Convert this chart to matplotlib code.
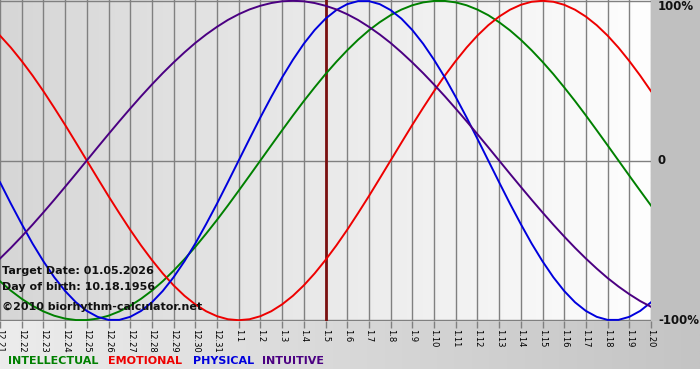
import numpy as np
import matplotlib
matplotlib.use("Agg")
import matplotlib.pyplot as plt
from matplotlib.colors import LinearSegmentedColormap

# ---- data ----
dates = ["12.21", "12.22", "12.23", "12.24", "12.25", "12.26", "12.27", "12.28", "12.29", "12.30",
         "12.31", "1.1", "1.2", "1.3", "1.4", "1.5", "1.6", "1.7", "1.8", "1.9", "1.10",
         "1.11", "1.12", "1.13", "1.14", "1.15", "1.16", "1.17", "1.18", "1.19", "1.20"]
sample_step = 0.5  # values read every half day

physical = [-0.136, -0.270, -0.398, -0.520, -0.631, -0.731, -0.817, -0.888, -0.942, -0.979,
            -0.998, -0.998, -0.979, -0.942, -0.888, -0.817, -0.731, -0.631, -0.520, -0.398,
            -0.270, -0.136, 0.000, 0.136, 0.270, 0.398, 0.520, 0.631, 0.731, 0.817,
            0.888, 0.942, 0.979, 0.998, 0.998, 0.979, 0.942, 0.888, 0.817, 0.731,
            0.631, 0.520, 0.398, 0.270, 0.136, 0.000, -0.136, -0.270, -0.398, -0.520,
            -0.631, -0.731, -0.817, -0.888, -0.942, -0.979, -0.998, -0.998, -0.979, -0.942,
            -0.888]
emotional = [0.782, 0.707, 0.623, 0.532, 0.434, 0.330, 0.223, 0.112, 0.000, -0.112,
             -0.223, -0.330, -0.434, -0.532, -0.623, -0.707, -0.782, -0.847, -0.901, -0.944,
             -0.975, -0.994, -1.000, -0.994, -0.975, -0.944, -0.901, -0.847, -0.782, -0.707,
             -0.623, -0.532, -0.434, -0.330, -0.223, -0.112, 0.000, 0.112, 0.223, 0.330,
             0.434, 0.532, 0.623, 0.707, 0.782, 0.847, 0.901, 0.944, 0.975, 0.994,
             1.000, 0.994, 0.975, 0.944, 0.901, 0.847, 0.782, 0.707, 0.623, 0.532,
             0.434]
intellectual = [-0.756, -0.815, -0.866, -0.910, -0.945, -0.972, -0.990, -0.999, -0.999, -0.990,
                -0.972, -0.945, -0.910, -0.866, -0.815, -0.756, -0.690, -0.618, -0.541, -0.458,
                -0.372, -0.282, -0.189, -0.095, 0.000, 0.095, 0.189, 0.282, 0.372, 0.458,
                0.541, 0.618, 0.690, 0.756, 0.815, 0.866, 0.910, 0.945, 0.972, 0.990,
                0.999, 0.999, 0.990, 0.972, 0.945, 0.910, 0.866, 0.815, 0.756, 0.690,
                0.618, 0.541, 0.458, 0.372, 0.282, 0.189, 0.095, 0.000, -0.095, -0.189,
                -0.282]
intuitive = [-0.614, -0.547, -0.476, -0.402, -0.325, -0.246, -0.165, -0.083, 0.000, 0.083,
             0.165, 0.246, 0.325, 0.402, 0.476, 0.547, 0.614, 0.677, 0.736, 0.789,
             0.837, 0.880, 0.916, 0.946, 0.969, 0.986, 0.997, 1.000, 0.997, 0.986,
             0.969, 0.946, 0.916, 0.880, 0.837, 0.789, 0.736, 0.677, 0.614, 0.547,
             0.476, 0.402, 0.325, 0.246, 0.165, 0.083, 0.000, -0.083, -0.165, -0.246,
             -0.325, -0.402, -0.476, -0.547, -0.614, -0.677, -0.736, -0.789, -0.837, -0.880,
             -0.916]
target_label = "1.5"
y_labels = ["100%", "0", "-100%"]
y_values = [1, 0, -1]
legend_names = ["INTELLECTUAL", "EMOTIONAL", "PHYSICAL", "INTUITIVE"]
info_lines = ["Target Date: 01.05.2026", "Day of birth: 10.18.1956", "\u00a92010 biorhythm-calculator.net"]

# ---- styles ----
C_GREEN = "#008000"
C_RED = "#ee0000"
C_BLUE = "#0000dd"
C_PURPLE = "#4b0082"
W, H = 700, 380

fig = plt.figure(figsize=(7, 3.8), dpi=100)
fig.patch.set_facecolor("white")

# background axes for figure-level gradients
bg = fig.add_axes([0, 0, 1, 1], zorder=-5)
bg.set_xlim(0, W)
bg.set_ylim(H, 0)
bg.axis("off")
grad_bottom = LinearSegmentedColormap.from_list("gb", ["#ececec", "#c4c4c4"])
bg.imshow(np.linspace(0, 1, 256)[None, :], cmap=grad_bottom, aspect="auto",
          extent=[0, W, 369, 321])
bg.fill_between([651, W], 0, 321, color="#c0c0c0", lw=0)

# main plot axes
px_left, px_right, px_top, px_bot = 0, 651, 0, 321
ax = fig.add_axes([px_left / W, 1 - px_bot / H, (px_right - px_left) / W, (px_bot - px_top) / H])
ax.set_facecolor("none")
n = len(dates)
x = np.arange(n)
ax.set_xlim(0, n - 1)
ax.set_ylim(-1.005, 1.005)

grad_plot = LinearSegmentedColormap.from_list("gp", ["#d6d6d6", "#fefefe"])
ax.imshow(np.linspace(0, 1, 256)[None, :], cmap=grad_plot, aspect="auto",
          extent=[0, n - 1, -1.005, 1.005], zorder=0)

for xi in x:
    ax.axvline(xi, color="#808080", lw=1.0, zorder=1)
for yv in y_values:
    ax.axhline(yv, color="#808080", lw=1.0, zorder=1)

ax.axvline(dates.index(target_label), color="#7a1010", lw=2.0, zorder=2)

xs = np.arange(len(physical)) * sample_step
ax.plot(xs, intellectual, color=C_GREEN, lw=1.4, zorder=3)
ax.plot(xs, emotional, color=C_RED, lw=1.4, zorder=3)
ax.plot(xs, physical, color=C_BLUE, lw=1.4, zorder=3)
ax.plot(xs, intuitive, color=C_PURPLE, lw=1.4, zorder=3)

for s in ax.spines.values():
    s.set_visible(False)
ax.set_yticks([])
ax.set_xticks(x)
ax.set_xticklabels(dates, rotation=-90, fontsize=6, color="black")
ax.tick_params(axis="x", length=5, width=1, color="#808080", pad=1)

# right labels
for lab, yv in zip(y_labels, y_values):
    ypx = 160.5 - 160.5 * yv
    ypx = min(max(ypx, 7), 322)
    fig.text(658 / W, 1 - ypx / H, lab, fontsize=8.5, fontweight="bold",
             ha="left", va="center", color="#111111")

# info texts
for txt, ypx in zip(info_lines, [271, 287, 307]):
    fig.text(2 / W, 1 - ypx / H, txt, fontsize=8, fontweight="bold",
             ha="left", va="center", color="#111111")

# legend
for name, col, xpx in zip(legend_names, [C_GREEN, C_RED, C_BLUE, C_PURPLE], [8, 108, 193, 262]):
    fig.text(xpx / W, 1 - 361 / H, name, fontsize=8, fontweight="bold",
             ha="left", va="center", color=col)

fig.savefig("out.png", dpi=100)
